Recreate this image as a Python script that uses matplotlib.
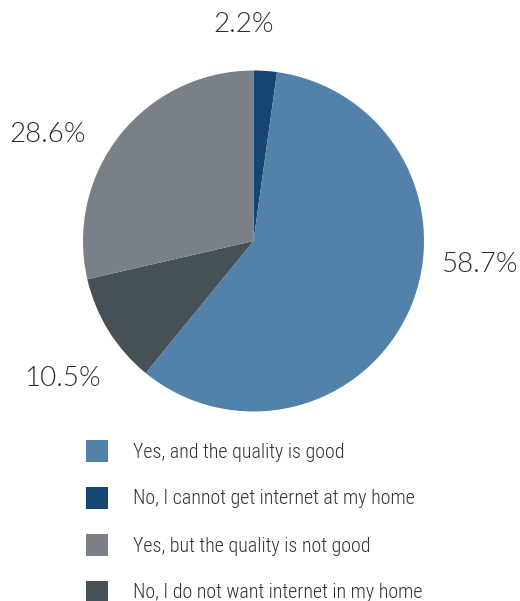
import matplotlib
matplotlib.use("Agg")
import matplotlib.pyplot as plt
from matplotlib.patches import Rectangle
from matplotlib import font_manager
from matplotlib.font_manager import FontProperties

# Survey answers, drawn clockwise from 12 o'clock
pie_labels = ["No, I cannot get internet at my home",
              "Yes, and the quality is good",
              "No, I do not want internet in my home",
              "Yes, but the quality is not good"]
pie_values = [2.2, 58.7, 10.5, 28.6]
pie_colors = ["#164574", "#5282A9", "#465157", "#7A8088"]

# Legend order
legend_labels = ["Yes, and the quality is good",
                 "No, I cannot get internet at my home",
                 "Yes, but the quality is not good",
                 "No, I do not want internet in my home"]


def _weight(f):
    w = f.weight
    if isinstance(w, str):
        w = font_manager.weight_dict.get(w, 400)
    return w


def pick_condensed(preferred, weight):
    fonts = font_manager.fontManager.ttflist
    for fam in preferred:
        cands = [f for f in fonts if f.name.startswith(fam) and f.style == "normal"
                 and ("ondensed" in f.name or "arrow" in f.name
                      or "ondensed" in str(f.stretch) or "ondensed" in f.fname
                      or "arrow" in f.fname)]
        if cands:
            best = min(cands, key=lambda f: (abs(_weight(f) - weight),
                                              "Extra" in f.fname or "Semi" in f.fname))
            return FontProperties(fname=best.fname)
    return FontProperties(family="DejaVu Sans")


pct_fp = FontProperties(family="Lato", weight=300, stretch="normal")
leg_fp = pick_condensed(["Roboto Condensed", "Open Sans Condensed", "Noto Sans",
                         "Open Sans", "DejaVu Sans"], 300)

W, H = 520, 601
fig = plt.figure(figsize=(W / 100, H / 100), dpi=100)
ax = fig.add_axes([0, 0, 1, 1])

cx, cy, r = 253.5, H - 241, 170.5
ax.pie(pie_values, colors=pie_colors, startangle=90, counterclock=False,
       center=(cx, cy), radius=r, wedgeprops=dict(linewidth=0))
ax.set_xlim(0, W)
ax.set_ylim(0, H)
ax.set_aspect("equal")
ax.axis("off")

# Percentage labels placed around the pie (pixel positions from top-left)
label_pos = [(244, 24), (479, 265), (62, 378), (48, 134)]
for v, (px, py) in zip(pie_values, label_pos):
    t = ax.text(px, H - py, f"{v:.1f}%", ha="center", va="center",
                fontproperties=pct_fp, color="#2e2e2e")
    t.set_fontsize(20)

color_of = dict(zip(pie_labels, pie_colors))
row_y = [451, 498, 545, 592]
texts = []
for lab, yy in zip(legend_labels, row_y):
    ax.add_patch(Rectangle((86, H - yy - 11), 22, 22,
                           facecolor=color_of[lab], edgecolor="none"))
    t = ax.text(133, H - yy - 1, lab, ha="left", va="center",
                fontproperties=leg_fp, color="#333333")
    t.set_fontsize(17)
    texts.append(t)

# Fit the longest legend line to the available width
fig.canvas.draw()
renderer = fig.canvas.get_renderer()
widest = max(t.get_window_extent(renderer).width for t in texts)
size = min(18, 17 * 292 / widest)
for t in texts:
    t.set_fontsize(size)

fig.savefig("out.png", dpi=100)
